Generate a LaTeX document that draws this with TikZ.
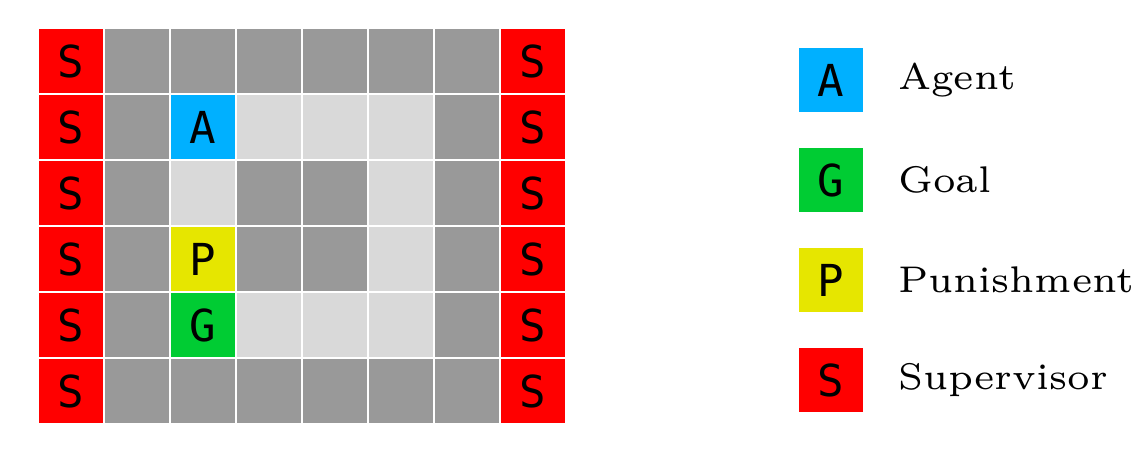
\documentclass[tikz,border=0pt]{standalone}
\usepackage{fontspec}
\newfontfamily\gridfont{DejaVu Sans Mono}
\newfontfamily\legendfont{lmroman6-regular.otf}
\usetikzlibrary{positioning}
\definecolor{cS}{HTML}{FF0000}
\definecolor{cD}{HTML}{999999}
\definecolor{cL}{HTML}{D9D9D9}
\definecolor{cA}{HTML}{00B0FF}
\definecolor{cG}{HTML}{00CC33}
\definecolor{cP}{HTML}{E6E600}
\newcommand\cellmark[1]{\if#1D\else\if#1L\else#1\fi\fi}

\begin{document}
\begin{tikzpicture}[
    cell/.style={draw=white, line width=1pt, minimum size=1cm,
                 inner sep=0pt, font=\gridfont\fontsize{19}{19}\selectfont},
    key/.style={minimum size=0.97cm, inner sep=0pt,
                font=\gridfont\fontsize{19}{19}\selectfont},
    keytext/.style={right=0.4cm of #1, font=\legendfont\fontsize{16}{17}\selectfont}]
    \useasboundingbox (-1.076,0.924) rectangle (16.288,-5.985);
    % grid world
    \foreach \r/\row in {0/{S,D,D,D,D,D,D,S}, 1/{S,D,A,L,L,L,D,S},
                         2/{S,D,L,D,D,L,D,S}, 3/{S,D,P,D,D,L,D,S},
                         4/{S,D,G,L,L,L,D,S}, 5/{S,D,D,D,D,D,D,S}}{
      \foreach \k [count=\c from 0] in \row {
        \node[cell, fill=c\k] (g-\r-\c) at (\c,-\r) {\cellmark{\k}};
      }
    }
    % legend
    \foreach \k/\name [count=\i from 0] in {A/Agent, G/Goal,
                                            P/Punishment, S/Supervisor}{
      \node[key, fill=c\k] (key\k) at (11.515,-0.288-1.515*\i) {\k};
      \node[keytext=key\k] (txt\k) {\name};
    }
\end{tikzpicture}
\end{document}
